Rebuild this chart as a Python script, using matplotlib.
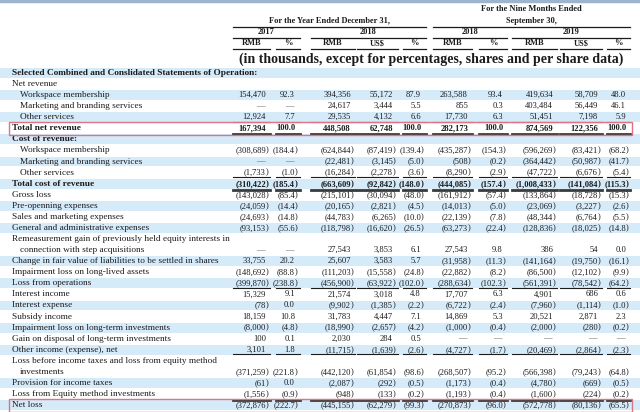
import matplotlib.pyplot as plt
from matplotlib.patches import Rectangle

plt.rcParams["font.family"] = ["Liberation Serif", "DejaVu Serif"]

# row labels (two-line labels carry their values on the second line)
row_labels = [
    "Selected Combined and Conslidated Statements of Operation:",
    "Net revenue",
    "Workspace membership",
    "Marketing and branding services",
    "Other services",
    "Total net revenue",
    "Cost of revenue:",
    "Workspace membership",
    "Marketing and branding services",
    "Other services",
    "Total cost of revenue",
    "Gross loss",
    "Pre-openning expenses",
    "Sales and marketing expenses",
    "General and administrative expenses",
    "Remeasurement gain of previously held equity interests in\nconnection with step acquisitions",
    "Change in fair value of liabilities to be settled in shares",
    "Impairment loss on long-lived assets",
    "Loss from operations",
    "Interest income",
    "Interest expense",
    "Subsidy income",
    "Impairment loss on long-term investments",
    "Gain on disposal of long-term investments",
    "Other income (expense), net",
    "Loss before income taxes and loss from equity method\ninvestments",
    "Provision for income taxes",
    "Loss from Equity method investments",
    "Net loss",
]
bold_rows = [0, 5, 6, 10]
indented_rows = [2, 3, 4, 7, 8, 9]

rmb_2017 = [None, None, "154,470", "—", "12,924", "167,394", None, "(308,689)", "—", "(1,733)",
            "(310,422)", "(143,028)", "(24,059)", "(24,693)", "(93,153)", "—", "33,755", "(148,692)",
            "(399,870)", "15,329", "(78)", "18,159", "(8,000)", "100", "3,101", "(371,259)", "(61)",
            "(1,556)", "(372,876)"]
pct_2017 = [None, None, "92.3", "—", "7.7", "100.0", None, "(184.4)", "—", "(1.0)",
            "(185.4)", "(85.4)", "(14.4)", "(14.8)", "(55.6)", "—", "20.2", "(88.8)",
            "(238.8)", "9.1", "0.0", "10.8", "(4.8)", "0.1", "1.8", "(221.8)", "0.0",
            "(0.9)", "(222.7)"]
rmb_2018 = [None, None, "394,356", "24,617", "29,535", "448,508", None, "(624,844)", "(22,481)", "(16,284)",
            "(663,609)", "(215,101)", "(20,165)", "(44,783)", "(118,798)", "27,543", "25,607", "(111,203)",
            "(456,900)", "21,574", "(9,902)", "31,783", "(18,990)", "2,030", "(11,715)", "(442,120)", "(2,087)",
            "(948)", "(445,155)"]
usd_2018 = [None, None, "55,172", "3,444", "4,132", "62,748", None, "(87,419)", "(3,145)", "(2,278)",
            "(92,842)", "(30,094)", "(2,821)", "(6,265)", "(16,620)", "3,853", "3,583", "(15,558)",
            "(63,922)", "3,018", "(1,385)", "4,447", "(2,657)", "284", "(1,639)", "(61,854)", "(292)",
            "(133)", "(62,279)"]
pct_2018 = [None, None, "87.9", "5.5", "6.6", "100.0", None, "(139.4)", "(5.0)", "(3.6)",
            "(148.0)", "(48.0)", "(4.5)", "(10.0)", "(26.5)", "6.1", "5.7", "(24.8)",
            "(102.0)", "4.8", "(2.2)", "7.1", "(4.2)", "0.5", "(2.6)", "(98.6)", "(0.5)",
            "(0.2)", "(99.3)"]
rmb_9m_2018 = [None, None, "263,588", "855", "17,730", "282,173", None, "(435,287)", "(508)", "(8,290)",
               "(444,085)", "(161,912)", "(14,013)", "(22,139)", "(63,273)", "27,543", "(31,958)", "(22,882)",
               "(288,634)", "17,707", "(6,722)", "14,869", "(1,000)", "—", "(4,727)", "(268,507)", "(1,173)",
               "(1,193)", "(270,873)"]
pct_9m_2018 = [None, None, "93.4", "0.3", "6.3", "100.0", None, "(154.3)", "(0.2)", "(2.9)",
               "(157.4)", "(57.4)", "(5.0)", "(7.8)", "(22.4)", "9.8", "(11.3)", "(8.2)",
               "(102.3)", "6.3", "(2.4)", "5.3", "(0.4)", "—", "(1.7)", "(95.2)", "(0.4)",
               "(0.4)", "(96.0)"]
rmb_9m_2019 = [None, None, "419,634", "403,484", "51,451", "874,569", None, "(596,269)", "(364,442)", "(47,722)",
               "(1,008,433)", "(133,864)", "(23,069)", "(48,344)", "(128,836)", "386", "(141,164)", "(86,500)",
               "(561,391)", "4,901", "(7,960)", "20,521", "(2,000)", "—", "(20,469)", "(566,398)", "(4,780)",
               "(1,600)", "(572,778)"]
usd_9m_2019 = [None, None, "58,709", "56,449", "7,198", "122,356", None, "(83,421)", "(50,987)", "(6,676)",
               "(141,084)", "(18,728)", "(3,227)", "(6,764)", "(18,025)", "54", "(19,750)", "(12,102)",
               "(78,542)", "686", "(1,114)", "2,871", "(280)", "—", "(2,864)", "(79,243)", "(669)",
               "(224)", "(80,136)"]
pct_9m_2019 = [None, None, "48.0", "46.1", "5.9", "100.0", None, "(68.2)", "(41.7)", "(5.4)",
               "(115.3)", "(15.3)", "(2.6)", "(5.5)", "(14.8)", "0.0", "(16.1)", "(9.9)",
               "(64.2)", "0.6", "(1.0)", "2.3", "(0.2)", "—", "(2.3)", "(64.8)", "(0.5)",
               "(0.2)", "(65.5)"]

columns = [rmb_2017, pct_2017, rmb_2018, usd_2018, pct_2018,
           rmb_9m_2018, pct_9m_2018, rmb_9m_2019, usd_9m_2019, pct_9m_2019]
unit_labels = ["RMB", "%", "RMB", "US$", "%", "RMB", "%", "RMB", "US$", "%"]
year_labels = ["2017", "2018", "2018", "2019"]
group_labels = ["For the Year Ended December 31,", "For the Nine Months Ended\nSeptember 30,"]

# rows with a single rule below / a heavy rule below
single_rule_after = [4, 9, 18, 24]
double_rule_after = [5, 10, 27]
boxed_rows = [5, 28]

# layout (pixels)
digit_x = [266, 295, 351, 393, 421, 468, 503, 553, 598, 626]
col_spans = [(233, 270), (276, 300), (311, 355), (357, 398), (403, 426),
             (433, 472), (479, 507), (512, 557), (560, 602), (607, 630)]
year_spans = [(0, 1), (2, 4), (5, 6), (7, 9)]
group_spans = [(0, 4), (5, 9)]
y0, pitch = 73.0, 11.07
ink = "#1b1b1b"
band = "#d6ebf9"
FS = 6.7   # labels
NS = 6.1   # numbers
HS = 6.0   # header

fig = plt.figure(figsize=(6.4, 4.12), dpi=100)
ax = fig.add_axes([0, 0, 1, 1])
ax.set_xlim(0, 640)
ax.set_ylim(412, 0)
ax.axis("off")

ax.plot([0, 640], [1, 1], color="#9db4cc", lw=2.5)

# header
for (a, b), lab in zip(group_spans, group_labels):
    xl, xr = col_spans[a][0], col_spans[b][1]
    lines = lab.split("\n")
    for k, ln in enumerate(reversed(lines)):
        ax.text((xl + xr) / 2, 20.8 - 11.5 * k, ln, ha="center", va="center",
                fontsize=HS, fontweight="bold", color=ink)
    ax.plot([xl, xr], [26.8, 26.8], color=ink, lw=0.9)
for (a, b), lab in zip(year_spans, year_labels):
    xl, xr = col_spans[a][0], col_spans[b][1]
    ax.text((xl + xr) / 2, 32.3, lab, ha="center", va="center", fontsize=HS,
            fontweight="bold", color=ink)
    ax.plot([xl, xr], [37.7, 37.7], color=ink, lw=0.9)
for (xl, xr), lab in zip(col_spans, unit_labels):
    ax.text((xl + xr) / 2, 43.4, lab, ha="center", va="center", fontsize=HS,
            fontweight="bold", color=ink)
    ax.plot([xl, xr], [48.8, 48.8], color=ink, lw=0.9)
ax.text(431, 59, "(in thousands, except for percentages, shares and per share data)",
        ha="center", va="center", fontsize=10.0, fontweight="bold", color=ink)

# body
slot = 0
shade = True
for i, lab in enumerate(row_labels):
    n = lab.count("\n") + 1
    top = y0 + (slot - 0.5) * pitch
    if shade:
        ax.add_patch(Rectangle((0, top + 0.6), 640, n * pitch - 1.2, color=band, lw=0, zorder=0))
    shade = not shade
    weight = "bold" if i in bold_rows else "normal"
    for k, ln in enumerate(lab.split("\n")):
        x = 20 if (i in indented_rows or k > 0) else 12
        ax.text(x, y0 + (slot + k) * pitch, ln, ha="left", va="center", fontsize=FS,
                fontweight=weight, color=ink)
    yv = y0 + (slot + n - 1) * pitch
    for xd, col in zip(digit_x, columns):
        v = col[i]
        if v is None:
            continue
        if v == "—":
            ax.text(xd - 1, yv, v, ha="right", va="center", fontsize=NS, color="#555555")
        elif v.endswith(")"):
            ax.text(xd, yv, v[:-1], ha="right", va="center", fontsize=NS, fontweight=weight, color=ink)
            ax.text(xd - 0.5, yv, ")", ha="left", va="center", fontsize=NS, fontweight=weight, color=ink)
        else:
            ax.text(xd, yv, v, ha="right", va="center", fontsize=NS, fontweight=weight, color=ink)
    bottom = top + n * pitch
    if i in single_rule_after:
        for xl, xr in col_spans:
            ax.plot([xl, xr], [bottom - 0.8, bottom - 0.8], color=ink, lw=0.8)
    if i in double_rule_after:
        for xl, xr in col_spans:
            ax.plot([xl, xr], [bottom + 0.6, bottom + 0.6], color="#3a3a3a", lw=2.0)
    if i in boxed_rows:
        ax.add_patch(Rectangle((9, top - 1.0), 623, n * pitch + 2.2, fill=False,
                               edgecolor="#dc7486", lw=1.0, zorder=5))
    slot += n

fig.savefig("out.png", dpi=100)
